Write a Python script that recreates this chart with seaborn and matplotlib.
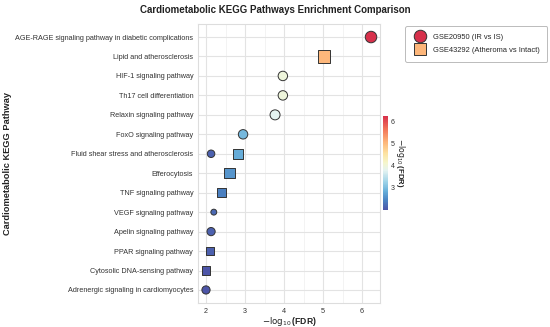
import numpy as np
import pandas as pd
import matplotlib
matplotlib.use("Agg")
import matplotlib.pyplot as plt
from matplotlib.colors import LinearSegmentedColormap, Normalize
from matplotlib.lines import Line2D
from matplotlib.ticker import MultipleLocator
import seaborn as sns

# ---- data ----
pathways = [
    "AGE-RAGE signaling pathway in diabetic complications",
    "Lipid and atherosclerosis",
    "HIF-1 signaling pathway",
    "Th17 cell differentiation",
    "Relaxin signaling pathway",
    "FoxO signaling pathway",
    "Fluid shear stress and atherosclerosis",
    "Efferocytosis",
    "TNF signaling pathway",
    "VEGF signaling pathway",
    "Apelin signaling pathway",
    "PPAR signaling pathway",
    "Cytosolic DNA-sensing pathway",
    "Adrenergic signaling in cardiomyocytes",
]

gse1_label = "GSE20950 (IR vs IS)"
gse1_paths = ["AGE-RAGE signaling pathway in diabetic complications",
              "HIF-1 signaling pathway", "Th17 cell differentiation",
              "Relaxin signaling pathway", "FoxO signaling pathway",
              "Fluid shear stress and atherosclerosis",
              "VEGF signaling pathway", "Apelin signaling pathway",
              "Adrenergic signaling in cardiomyocytes"]
gse1_logfdr = [6.23, 3.97, 3.97, 3.77, 2.95, 2.13, 2.20, 2.13, 2.00]
gse1_count = [14, 10, 10, 11, 10, 7, 5, 8, 8]

gse2_label = "GSE43292 (Atheroma vs Intact)"
gse2_paths = ["Lipid and atherosclerosis",
              "Fluid shear stress and atherosclerosis", "Efferocytosis",
              "TNF signaling pathway", "PPAR signaling pathway",
              "Cytosolic DNA-sensing pathway"]
gse2_logfdr = [5.03, 2.82, 2.60, 2.40, 2.10, 2.00]
gse2_count = [16, 12, 12, 10, 8, 8]

df = pd.concat([
    pd.DataFrame({"pathway": gse1_paths, "logfdr": gse1_logfdr,
                  "count": gse1_count, "dataset": gse1_label}),
    pd.DataFrame({"pathway": gse2_paths, "logfdr": gse2_logfdr,
                  "count": gse2_count, "dataset": gse2_label}),
], ignore_index=True)
df["pathway"] = pd.Categorical(df["pathway"], categories=pathways, ordered=True)

# ---- style ----
sns.set_theme(style="whitegrid")
plt.rcParams["font.family"] = ["Liberation Sans", "DejaVu Sans"]
plt.rcParams["mathtext.fontset"] = "dejavusans"

cmap = LinearSegmentedColormap.from_list("cm", [
    (0.00, "#4d55a8"), (0.10, "#4a82c2"), (0.20, "#68b0da"),
    (0.30, "#9fd3e8"), (0.42, "#e4f3f1"), (0.50, "#f5f6cc"),
    (0.60, "#fde3a2"), (0.72, "#fdb67a"), (0.86, "#f27558"),
    (1.00, "#d7304b")])
vmin, vmax = 2.0, 6.23
norm = Normalize(vmin=vmin, vmax=vmax)

fig = plt.figure(figsize=(5.5, 3.27), dpi=100)
ax = fig.add_axes([198/550, 24/327, 182/550, 279/327])

sns.scatterplot(data=df, x="logfdr", y="pathway", hue="logfdr",
                palette=cmap, hue_norm=norm, size="count",
                sizes=(18, 80), size_norm=(5, 16), style="dataset",
                markers={gse1_label: "o", gse2_label: "s"},
                edgecolor="#333333", linewidth=0.7, legend=False, ax=ax,
                zorder=3)

ax.set_xlim(1.795, 6.46)
ax.set_ylim(len(pathways) - 1 + 0.67, -0.67)
ax.xaxis.set_major_locator(MultipleLocator(1))
ax.xaxis.set_minor_locator(MultipleLocator(0.5))
ax.grid(which="major", color="#e3e3e3", linewidth=0.8)
ax.grid(which="minor", axis="x", color="#f1f1f1", linewidth=0.6)
for s in ax.spines.values():
    s.set_color("#dddddd")
    s.set_linewidth(0.8)
ax.tick_params(axis="both", labelsize=5.2, colors="#333333", length=2,
               pad=1.5, width=0.6)
ax.tick_params(axis="y", color="#cccccc")
ax.tick_params(axis="x", color="#cccccc")
ax.tick_params(which="minor", length=0)
ax.set_xlabel(r"$-\log_{10}$(FDR)", fontsize=6.2, fontweight="bold",
              color="#222222")
ax.xaxis.set_label_coords(0.5, -0.043)
ax.set_ylabel("Cardiometabolic KEGG Pathway", fontsize=6.7, fontweight="bold",
              color="#222222")
ax.yaxis.set_label_coords(-1.022, 0.5)

fig.suptitle("Cardiometabolic KEGG Pathways Enrichment Comparison",
             fontsize=7, fontweight="bold", color="#222222", x=0.5, y=0.985)

# colorbar
cax = fig.add_axes([383/550, (327-210)/327, 5/550, 94/327])
sm = plt.cm.ScalarMappable(cmap=cmap, norm=norm)
cb = fig.colorbar(sm, cax=cax)
cb.set_ticks([3, 4, 5, 6])
cb.outline.set_visible(False)
cax.tick_params(labelsize=5, length=0, pad=2, colors="#333333")
cb.set_label(r"$-\log_{10}$(FDR)", rotation=270, fontsize=5.6,
             fontweight="bold", labelpad=9, color="#222222")

# legend
handles = [
    Line2D([0], [0], marker="o", linestyle="", markersize=9,
           markerfacecolor="#d7304b", markeredgecolor="#333333",
           markeredgewidth=0.7, label=gse1_label),
    Line2D([0], [0], marker="s", linestyle="", markersize=9,
           markerfacecolor="#fdb67a", markeredgecolor="#333333",
           markeredgewidth=0.7, label=gse2_label),
]
leg = fig.legend(handles=handles, loc="upper right",
                 bbox_to_anchor=(547/550, 1 - 26/327), fontsize=5.4,
                 frameon=True, handletextpad=0.7, borderpad=1.0,
                 labelspacing=0.8, borderaxespad=0)
leg.get_frame().set_edgecolor("#aaaaaa")
leg.get_frame().set_linewidth(0.7)

fig.savefig("out.png", dpi=100)
